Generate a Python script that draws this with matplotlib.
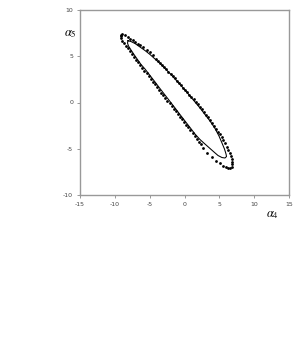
import matplotlib
matplotlib.use("Agg")
import matplotlib.pyplot as plt

plt.rcParams["mathtext.fontset"] = "stix"
plt.rcParams["axes.unicode_minus"] = False

# Dotted (observed) points: alpha4, alpha5
dots_x = [-9.05, -9.10, -8.95, -8.55, -8.15, -7.80, -7.45, -7.08, -6.70, -6.35, -5.90, -5.42, -4.95,
          -4.55, -4.15, -3.85, -3.55, -3.20, -2.90, -2.60, -2.30, -2.00, -1.70, -1.40, -1.10, -0.80,
          -0.50, -0.20, 0.10, 0.40, 0.70, 1.00, 1.30, 1.60, 1.90, 2.20, 2.50, 2.80, 3.10, 3.40, 3.70,
          4.00, 4.28, 4.55, 4.82, 5.08, 5.33, 5.57, 5.80, 6.06, 6.30, 6.53, 6.68, 6.80, 6.86, 6.87, 6.80,
          6.55, 6.30, 5.95, 5.57, 5.09, 4.52, 3.90, 3.27, 2.70, 2.37,
          2.05, 1.75, 1.45, 1.15, 0.85, 0.55, 0.25, -0.05, -0.35, -0.65, -0.95, -1.25, -1.55, -1.85,
          -2.15, -2.45, -2.75, -3.05, -3.35, -3.65, -3.95, -4.25, -4.55, -4.85, -5.15, -5.45, -5.75,
          -6.05, -6.35, -6.65, -6.95, -7.25, -7.55, -7.85, -8.15, -8.45, -8.70, -8.90, -9.05]
dots_y = [7.30, 7.18, 7.38, 7.25, 7.06, 6.90, 6.74, 6.55, 6.36, 6.19, 5.97, 5.72, 5.45,
          5.12, 4.75, 4.52, 4.28, 4.02, 3.80, 3.57, 3.35, 3.12, 2.87, 2.62, 2.36, 2.12,
          1.88, 1.62, 1.38, 1.12, 0.86, 0.60, 0.35, 0.08, -0.20, -0.46, -0.73, -1.00, -1.30, -1.60, -1.90,
          -2.22, -2.55, -2.85, -3.14, -3.45, -3.75, -4.05, -4.40, -4.78, -5.13, -5.49, -5.80, -6.10, -6.42, -6.70, -6.95,
          -7.08, -7.12, -7.00, -6.83, -6.57, -6.32, -5.92, -5.49, -4.95, -4.49,
          -4.22, -3.95, -3.65, -3.30, -2.98, -2.70, -2.38, -2.10, -1.80, -1.52, -1.22, -0.93, -0.65, -0.38,
          -0.08, 0.20, 0.50, 0.78, 1.08, 1.36, 1.66, 1.95, 2.25, 2.55, 2.85, 3.15, 3.43,
          3.72, 4.02, 4.33, 4.63, 4.93, 5.24, 5.55, 5.86, 6.15, 6.42, 6.68, 6.95]

# Solid (fitted) ellipse
curve_x = [-8.11, -7.68, -7.11, -6.39, -5.67, -4.95, -4.23, -3.52, -2.80, -2.08, -1.36, -0.65, 0.07,
           0.79, 1.51, 2.22, 2.94, 3.66, 4.38, 4.95, 5.38, 5.74, 5.96, 6.03, 5.81, 5.38, 4.81, 4.23,
           3.66, 2.94, 2.22, 1.51, 0.79, 0.07, -0.65, -1.36, -2.08, -2.80, -3.52, -4.23, -4.95, -5.67,
           -6.24, -6.75, -7.25, -7.68, -8.04, -8.18, -8.11]
curve_y = [6.68, 6.59, 6.38, 6.00, 5.62, 5.19, 4.70, 4.22, 3.68, 3.14, 2.54, 1.95, 1.35,
           0.70, 0.05, -0.59, -1.30, -2.00, -2.81, -3.62, -4.38, -5.03, -5.57, -5.84, -6.00, -5.95, -5.73, -5.35,
           -4.97, -4.49, -4.00, -3.41, -2.70, -2.00, -1.30, -0.59, 0.11, 0.81, 1.51, 2.22, 2.92, 3.62,
           4.11, 4.65, 5.19, 5.68, 6.11, 6.43, 6.68]

x_ticks = [-15, -10, -5, 0, 5, 10, 15]
y_ticks = [-10, -5, 0, 5, 10]

fig = plt.figure(figsize=(3.0, 3.6), dpi=100)
ax = fig.add_axes([80/300, 1 - 195/360, 209/300, 185/360])
ax.plot(curve_x, curve_y, color="black", lw=0.75)
ax.plot(dots_x, dots_y, linestyle="none", marker="o", ms=2.0, mfc="black", mec="black", mew=0)
ax.set_xlim(-15, 15)
ax.set_ylim(-10, 10)
ax.set_xticks(x_ticks)
ax.set_yticks(y_ticks)
ax.tick_params(direction="out", length=2, width=0.6, color="#888888", labelsize=4.5,
               labelcolor="#444444", pad=3)
for s in ax.spines.values():
    s.set_color("#999999")
    s.set_linewidth(1.0)

fig.text(0.212, 0.908, r"$\alpha_5$", fontsize=9, ha="left", va="center")
fig.text(0.885, 0.405, r"$\alpha_4$", fontsize=9, ha="left", va="center")
fig.savefig("out.png", dpi=100, facecolor="white")
